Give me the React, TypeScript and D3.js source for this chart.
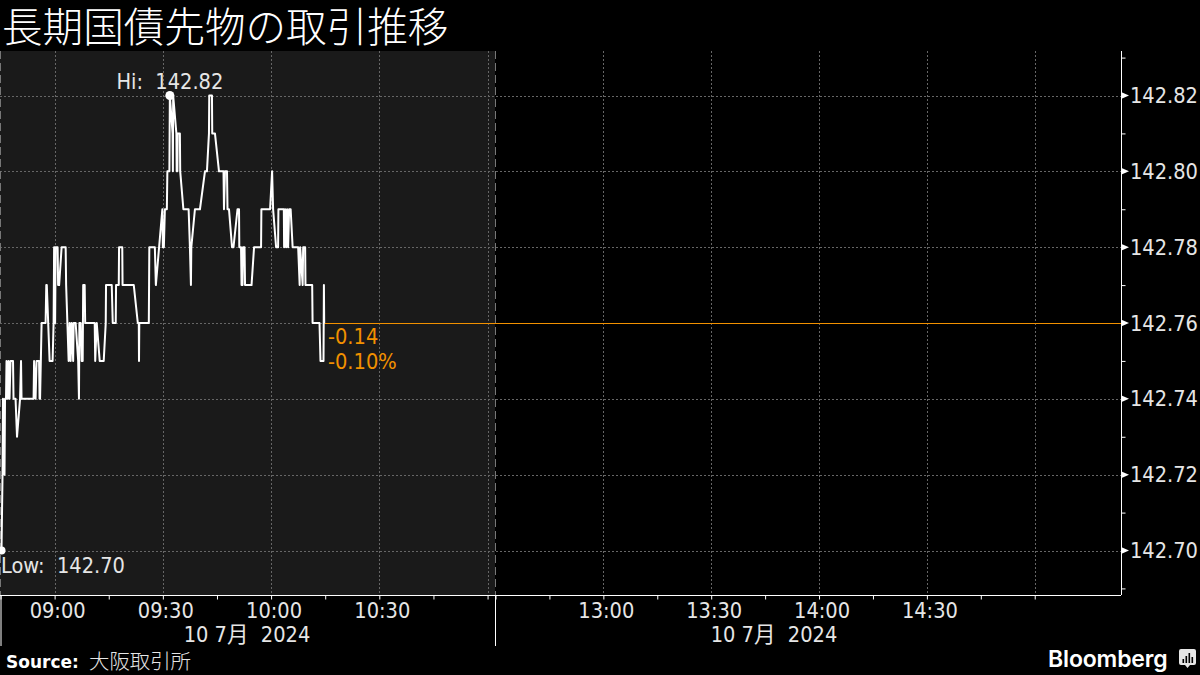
import React, { useEffect, useRef } from 'react';
import * as d3 from 'd3';

// minutes after 08:45
const minutes = [0.28, 0.56, 0.69, 1.11, 1.25, 1.53, 1.67, 1.94, 2.22, 2.5, 2.78, 3.47, 3.61, 4.17, 4.58, 5.42, 5.69, 5.83, 9.17, 9.31, 9.72, 10, 10.69, 10.83, 10.97, 11.39, 12.5, 12.69, 12.83, 13.61, 14.44, 14.72, 14.86, 15.14, 15.28, 15.83, 15.97, 16.25, 16.94, 18.06, 18.19, 18.89, 19.17, 19.44, 19.72, 20.14, 20.28, 20.83, 21.53, 21.75, 21.86, 22.22, 22.5, 22.78, 22.92, 23.33, 23.47, 26.11, 26.25, 26.67, 27.5, 28.61, 29.17, 29.25, 30.83, 31.11, 31.94, 32.03, 32.78, 32.86, 33.75, 33.83, 36.94, 38.06, 38.33, 38.39, 38.47, 41.11, 41.25, 42.78, 43.06, 44.86, 45, 45.28, 45.56, 46.11, 46.25, 46.81, 46.94, 47.69, 47.78, 47.86, 48.75, 48.83, 49.03, 49.11, 49.72, 49.81, 50.69, 52.14, 52.5, 52.78, 52.89, 53.89, 55.28, 56.67, 57.22, 57.78, 57.86, 58.61, 58.69, 59.44, 60.56, 61.81, 61.94, 62.22, 62.78, 62.92, 63.33, 64.17, 64.58, 65.69, 66.11, 66.19, 66.67, 66.81, 67.08, 67.22, 67.64, 67.78, 69.58, 70.28, 72.22, 72.31, 74.72, 75.28, 75.56, 76.39, 76.94, 77.03, 78.53, 78.61, 78.89, 79.17, 79.44, 79.72, 80, 80.42, 80.97, 82.5, 82.92, 83.06, 83.75, 83.89, 84.44, 84.53, 86.39, 86.5, 88.42, 88.69, 89.53, 89.64, 89.72];
const prices = [142.70, 142.72, 142.74, 142.72, 142.74, 142.74, 142.75, 142.74, 142.75, 142.74, 142.75, 142.75, 142.74, 142.74, 142.73, 142.74, 142.75, 142.74, 142.74, 142.75, 142.74, 142.75, 142.75, 142.74, 142.74, 142.76, 142.76, 142.77, 142.77, 142.75, 142.75, 142.76, 142.78, 142.76, 142.78, 142.78, 142.77, 142.77, 142.78, 142.78, 142.77, 142.75, 142.76, 142.75, 142.76, 142.75, 142.76, 142.76, 142.75, 142.74, 142.76, 142.76, 142.75, 142.75, 142.77, 142.77, 142.76, 142.76, 142.75, 142.76, 142.75, 142.75, 142.76, 142.77, 142.77, 142.76, 142.76, 142.77, 142.77, 142.78, 142.78, 142.77, 142.77, 142.76, 142.76, 142.75, 142.76, 142.76, 142.78, 142.78, 142.77, 142.79, 142.78, 142.78, 142.79, 142.79, 142.80, 142.80, 142.82, 142.81, 142.80, 142.82, 142.81, 142.80, 142.80, 142.81, 142.81, 142.80, 142.79, 142.79, 142.78, 142.77, 142.78, 142.79, 142.79, 142.80, 142.80, 142.81, 142.82, 142.82, 142.81, 142.81, 142.80, 142.80, 142.79, 142.80, 142.80, 142.79, 142.79, 142.78, 142.78, 142.79, 142.79, 142.78, 142.78, 142.77, 142.77, 142.78, 142.78, 142.77, 142.77, 142.78, 142.78, 142.79, 142.79, 142.80, 142.79, 142.78, 142.78, 142.79, 142.79, 142.78, 142.79, 142.78, 142.79, 142.78, 142.79, 142.79, 142.78, 142.78, 142.77, 142.78, 142.77, 142.78, 142.78, 142.77, 142.77, 142.76, 142.76, 142.75, 142.75, 142.77, 142.76];

const priceTicks = [142.69, 142.70, 142.71, 142.72, 142.73, 142.74, 142.75, 142.76, 142.77, 142.78, 142.79, 142.80, 142.81, 142.82, 142.83];
const labelledPrices = [142.70, 142.72, 142.74, 142.76, 142.78, 142.80, 142.82];
const timeTicks = [0, 15, 30, 45, 60, 75, 90, 105, 120, 135, 225, 240, 255, 270, 285, 300, 315, 330, 345, 360, 375];
const gridTimes = [15, 45, 75, 105, 135, 255, 285, 315, 345, 375];
const timeLabels = ['09:00', '09:30', '10:00', '10:30', '13:00', '13:30', '14:00', '14:30'];
const labelledTimes = [15, 45, 75, 105, 255, 285, 315, 345];
const dateLabels = ['10 7月  2024', '10 7月  2024'];
const title = '長期国債先物の取引推移';
const change = ['-0.14', '-0.10%'];
const logoBars = [4, 7, 10, 6];

const FONT = '"DejaVu Sans", "Noto Sans CJK JP", sans-serif';
const AMBER = '#f29100';

export default function App() {
  const ref = useRef<SVGSVGElement>(null);

  useEffect(() => {
    const svg = d3.select(ref.current);
    svg.selectAll('*').remove();

    const top = 51, bottom = 595, right = 1121;
    const x = d3.scaleLinear().domain([0, 137.2, 225, 399]).range([0.5, 495.5, 495.5, right]);
    const y = d3.scaleLinear().domain([142.70, 142.82]).range([550.5, 95.5]);

    const label = (sel: any) => sel
      .attr('font-size', 21.6).attr('font-family', FONT).attr('font-stretch', 'condensed')
      .style('font-stretch', 'condensed').style('white-space', 'pre');

    svg.append('rect').attr('width', 1200).attr('height', 675).attr('fill', '#000');
    svg.append('rect').attr('width', 495).attr('y', top).attr('height', bottom - top).attr('fill', '#1a1a1a');

    // grid
    svg.append('g').selectAll('line').data(labelledPrices).join('line')
      .attr('x1', 0).attr('x2', right)
      .attr('y1', d => Math.round(y(d)) + 0.5).attr('y2', d => Math.round(y(d)) + 0.5)
      .attr('stroke', '#666').attr('stroke-dasharray', '2,2');
    svg.append('g').selectAll('line').data(gridTimes).join('line')
      .attr('x1', d => Math.round(x(d)) + 0.5).attr('x2', d => Math.round(x(d)) + 0.5)
      .attr('y1', top).attr('y2', bottom)
      .attr('stroke', '#666').attr('stroke-dasharray', '2,2');
    svg.append('g').selectAll('line').data([0.5, 495.5]).join('line')
      .attr('x1', d => d).attr('x2', d => d).attr('y1', top).attr('y2', bottom)
      .attr('stroke', '#777').attr('stroke-dasharray', '8,4');

    // x axis
    const xAxis = d3.axisBottom(x).tickValues(timeTicks).tickSize(4).tickFormat(() => '');
    const gx = svg.append('g').attr('transform', `translate(0,${bottom + 0.5})`).call(xAxis);
    gx.select('.domain').attr('stroke', '#fff').attr('d', `M0,0H${right}`);
    gx.selectAll('line').attr('stroke', '#fff');
    svg.append('g').selectAll('text').data(labelledTimes).join('text')
      .attr('x', d => x(d) + 3).attr('y', 618).attr('text-anchor', 'middle')
      .attr('fill', '#e6e6e6').call(label)
      .text((d, i) => timeLabels[i]);
    svg.append('g').selectAll('line').data([1, 495.5]).join('line')
      .attr('x1', d => d).attr('x2', d => d).attr('y1', bottom).attr('y2', 646)
      .attr('stroke', '#fff');
    svg.append('g').selectAll('text').data(dateLabels).join('text')
      .attr('x', (d, i) => [247, 774][i]).attr('y', 642).attr('text-anchor', 'middle')
      .attr('fill', '#e6e6e6').call(label)
      .text(d => d);

    // y axis
    const yAxis = d3.axisRight(y).tickValues(priceTicks).tickSize(4).tickFormat(() => '');
    const gy = svg.append('g').attr('transform', `translate(${right + 0.5},0)`).call(yAxis);
    gy.select('.domain').attr('stroke', '#fff').attr('d', `M0,${top}V${bottom}`);
    gy.selectAll('line').attr('stroke', '#fff');
    svg.append('g').selectAll('path').data(labelledPrices).join('path')
      .attr('d', d => `M${right},${y(d) - 3.5}L${right + 8},${y(d)}L${right},${y(d) + 3.5}Z`)
      .attr('fill', '#fff');
    svg.append('g').selectAll('text').data(labelledPrices).join('text')
      .attr('x', 1130).attr('y', d => y(d) + 7.5)
      .attr('fill', '#e6e6e6').call(label)
      .text(d => d.toFixed(2));

    // last price
    const last = prices[prices.length - 1];
    svg.append('line')
      .attr('x1', x(minutes[minutes.length - 1])).attr('x2', right)
      .attr('y1', Math.round(y(last)) + 0.5).attr('y2', Math.round(y(last)) + 0.5)
      .attr('stroke', AMBER);

    // series
    const line = d3.line<number>().x(d => x(d)).y((d, i) => y(prices[i]));
    svg.append('path').attr('d', line(minutes)).attr('fill', 'none')
      .attr('stroke', '#fff').attr('stroke-width', 2).attr('stroke-linejoin', 'round');

    // hi / low
    const hi = d3.max(prices), lo = d3.min(prices);
    const hiIdx = prices.indexOf(hi), loIdx = prices.indexOf(lo);
    svg.append('circle').attr('cx', x(minutes[hiIdx])).attr('cy', y(hi)).attr('r', 4.5).attr('fill', '#fff');
    svg.append('circle').attr('cx', x(minutes[loIdx])).attr('cy', y(lo)).attr('r', 4).attr('fill', '#fff');
    svg.append('text').attr('x', x(minutes[hiIdx])).attr('y', 89).attr('text-anchor', 'middle')
      .attr('fill', '#e6e6e6').call(label).text(`Hi:  ${hi.toFixed(2)}`);
    svg.append('text').attr('x', 1).attr('y', 573)
      .attr('fill', '#e6e6e6').call(label).text(`Low:  ${lo.toFixed(2)}`);

    svg.append('g').selectAll('text').data(change).join('text')
      .attr('x', 328).attr('y', (d, i) => 344 + i * 25)
      .attr('fill', AMBER).call(label)
      .text(d => d);

    // title, footer
    svg.append('text').attr('x', 2).attr('y', 42)
      .attr('fill', '#fff').attr('font-size', 40.6).attr('font-weight', 300)
      .attr('font-family', '"Noto Sans CJK JP", sans-serif').text(title);
    svg.append('text').attr('x', 6).attr('y', 668)
      .attr('fill', '#fff').attr('font-size', 17).attr('font-weight', 700)
      .attr('font-family', FONT).text('Source:');
    svg.append('text').attr('x', 89).attr('y', 669)
      .attr('fill', '#e6e6e6').attr('font-size', 20.4).attr('font-weight', 300)
      .attr('font-family', '"Noto Sans CJK JP", sans-serif').text('大阪取引所');
    svg.append('text').attr('x', 1048).attr('y', 667)
      .attr('fill', '#fff').attr('font-size', 23).attr('font-weight', 600)
      .attr('font-family', 'Inter, sans-serif').attr('letter-spacing', -0.15).text('Bloomberg');
    svg.append('path').attr('fill', '#e6e6e6')
      .attr('d', 'M1181,649H1194Q1196,649 1196,651V663Q1196,665 1194,665H1190L1187.5,668L1185,665H1181Q1179,665 1179,663V651Q1179,649 1181,649Z');
    svg.append('g').selectAll('rect').data(logoBars).join('rect')
      .attr('x', (d, i) => 1182.5 + i * 3).attr('y', d => 663 - d).attr('width', 1.6).attr('height', d => d).attr('fill', '#000');
  }, []);

  return <svg ref={ref} width={1200} height={675} style={{ position: 'absolute', left: 0, top: 0 }} />;
}
